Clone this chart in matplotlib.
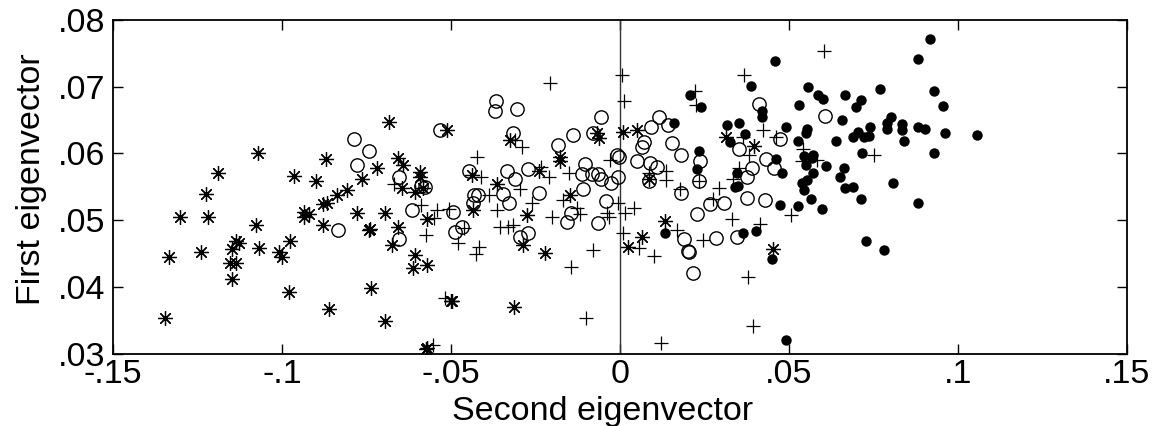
import matplotlib
matplotlib.use('Agg')
import matplotlib.pyplot as plt

plt.rcParams['font.family'] = ['Liberation Sans', 'DejaVu Sans']

star_x = [-.1347,-.1334,-.1301,-.1239,-.1218,-.1224,-.1190,-.1147,-.1154,-.1136,-.1147,-.1136,-.1126,-.1070,-.1077,-.1067,
          -.1009,-.1000,-.0979,-.0976,-.0964,-.0935,-.0935,-.0921,-.0899,-.0880,-.0880,-.0868,-.0871,-.0860,-.0836,-.0807,
          -.0763,-.0779,-.0744,-.0738,-.0683,-.0720,-.0656,-.0643,-.0592,-.0592,-.0646,-.0606,-.0582,-.0694,-.0739,-.0656,
          -.0572,-.0674,-.0606,-.0613,-.0571,-.0696,-.0574,-.0570,-.0511,-.0498,-.0500,-.0439,-.0434,-.0363,-.0325,-.0276,
          -.0286,-.0221,-.0313,-.0240,-.0177,-.0177,-.0148,-.0067,-.0063,.0010,.0023,.0051,.0086,.0134,.0066,.0313,.0397,.0453]
star_y = [.0353,.0445,.0505,.0452,.0505,.0539,.0570,.0412,.0435,.0436,.0457,.0468,.0466,.0600,.0492,.0458,
          .0452,.0445,.0392,.0468,.0566,.0512,.0505,.0509,.0558,.0492,.0524,.0526,.0591,.0367,.0538,.0545,
          .0562,.0510,.0485,.0398,.0647,.0578,.0593,.0583,.0572,.0564,.0548,.0542,.0548,.0510,.0486,.0490,
          .0502,.0463,.0447,.0428,.0433,.0349,.0306,.0308,.0635,.0379,.0378,.0568,.0515,.0554,.0620,.0507,
          .0463,.0450,.0369,.0574,.0595,.0588,.0538,.0631,.0623,.0632,.0459,.0635,.0561,.0498,.0474,.0624,.0611,.0457]

circle_x = [-.0787,-.0742,-.0777,-.0835,-.0654,-.0577,-.0590,-.0616,-.0653,-.0532,-.0494,-.0468,-.0488,-.0447,-.0431,-.0421,
            -.0434,-.0368,-.0370,-.0304,-.0318,-.0333,-.0312,-.0345,-.0329,-.0272,-.0239,-.0271,-.0296,-.0183,-.0140,-.0158,
            -.0144,-.0108,-.0111,-.0103,-.0082,-.0079,-.0064,-.0057,-.0056,-.0027,-.0007,-.0042,-.0064,-.0010,-.0003,.0049,
            .0064,.0072,.0091,.0114,.0141,.0153,.0181,.0089,.0108,.0086,.0237,.0235,.0179,.0227,.0266,.0309,.0188,.0202,
            .0205,.0215,.0284,.0345,.0376,.0428,.0376,.0390,.0352,.0431,.0456,.0410,.0474,.0606]
circle_y = [.0622,.0603,.0582,.0485,.0564,.0549,.0551,.0515,.0472,.0635,.0512,.0489,.0482,.0574,.0538,.0538,
            .0525,.0678,.0664,.0667,.0631,.0573,.0562,.0539,.0525,.0576,.0540,.0480,.0475,.0613,.0627,.0497,
            .0511,.0547,.0569,.0584,.0569,.0631,.0569,.0561,.0654,.0555,.0565,.0529,.0495,.0597,.0595,.0588,
            .0609,.0617,.0639,.0654,.0642,.0615,.0598,.0585,.0579,.0559,.0589,.0558,.0540,.0509,.0524,.0525,.0471,.0454,
            .0452,.0421,.0473,.0475,.0533,.0530,.0564,.0578,.0606,.0591,.0578,.0674,.0621,.0656]

plus_x = [-.0208,.0007,.0012,-.0289,-.0311,-.0424,-.0410,-.0670,-.0589,-.0542,-.0550,-.0505,-.0575,-.0463,-.0480,-.0416,
          -.0427,-.0389,-.0363,-.0355,-.0330,-.0316,-.0296,-.0259,-.0234,-.0210,-.0201,-.0150,-.0168,-.0118,-.0128,-.0079,
          -.0146,-.0102,-.0030,-.0005,-.0039,-.0032,.0015,.0010,-.0518,-.0554,.0041,.0057,.0102,.0121,.0135,.0135,
          .0086,.0177,.0168,.0246,.0235,.0222,.0225,.0293,.0276,.0330,.0335,.0352,.0383,.0368,.0363,.0424,
          .0462,.0413,.0378,.0394,.0505,.0604,.0540,.0538,.0584,.0750]
plus_y = [.0706,.0717,.0678,.0609,.0620,.0594,.0564,.0554,.0522,.0515,.0503,.0516,.0478,.0488,.0465,.0460,
          .0449,.0538,.0515,.0490,.0490,.0493,.0547,.0525,.0580,.0565,.0505,.0570,.0530,.0509,.0518,.0455,
          .0429,.0353,.0590,.0525,.0510,.0504,.0511,.0481,.0383,.0312,.0518,.0458,.0446,.0315,.0574,.0560,
          .0570,.0546,.0485,.0470,.0558,.0694,.0673,.0548,.0532,.0502,.0562,.0578,.0598,.0717,.0625,.0635,
          .0625,.0494,.0414,.0341,.0508,.0753,.0606,.0589,.0590,.0597]

dot_x = [.0458,.0556,.0585,.0600,.0530,.0666,.0712,.0697,.0769,.0929,.0955,.0916,.0881,.0658,.0491,.0552,
         .0549,.0527,.0638,.0801,.0791,.0789,.0835,.0833,.0883,.0903,.0962,.1057,.0740,.0705,.0690,.0722,
         .0738,.0840,.0717,.0929,.0543,.0570,.0568,.0549,.0610,.0663,.0652,.0570,.0554,.0538,.0543,.0666,
         .0689,.0807,.0565,.0713,.0881,.0527,.0598,.0474,.0479,.0462,.0728,.0780,.0449,.0389,.0420,.0420,
         .0318,.0351,.0370,.0325,.0207,.0239,.0159,.0235,.0229,.0346,.0350,.0339,.0365,.0403,.0134,.0492]
dot_y = [.0739,.0700,.0688,.0682,.0672,.0687,.0680,.0669,.0696,.0693,.0671,.0771,.0742,.0650,.0639,.0636,
         .0630,.0618,.0618,.0655,.0645,.0637,.0644,.0635,.0639,.0637,.0630,.0628,.0640,.0632,.0625,.0624,
         .0626,.0618,.0601,.0601,.0596,.0598,.0593,.0582,.0581,.0578,.0564,.0570,.0560,.0556,.0545,.0548,
         .0549,.0556,.0532,.0531,.0526,.0521,.0516,.0522,.0571,.0591,.0468,.0455,.0442,.0701,.0664,.0655,
         .0643,.0645,.0629,.0617,.0688,.0669,.0646,.0604,.0576,.0570,.0551,.0549,.0481,.0483,.0480,.0320]

xticks = [-.15,-.1,-.05,0,.05,.1,.15]
xticklabels = ['-.15','-.1','-.05','0','.05','.1','.15']
yticks = [.03,.04,.05,.06,.07,.08]
yticklabels = ['.03','.04','.05','.06','.07','.08']

fig = plt.figure(figsize=(11.63,4.26),dpi=100)
ax = fig.add_axes([113/1163,1-353.5/426,1014/1163,333.5/426])

ax.axvline(0,color='#333333',lw=1)
ax.plot(star_x,star_y,ls='none',marker=(8,2,0),ms=10.5,mew=.9,mec='black')
ax.plot(plus_x,plus_y,ls='none',marker='+',ms=9.5,mew=.9,mec='black')
ax.plot(circle_x,circle_y,ls='none',marker='o',ms=9.6,mew=1,mec='black',mfc='none')
ax.plot(dot_x,dot_y,ls='none',marker='o',ms=7.5,mew=0,mfc='black')

ax.set_xlim(-.15,.15)
ax.set_ylim(.03,.08)
ax.set_xticks(xticks)
ax.set_xticklabels(xticklabels)
ax.set_yticks(yticks)
ax.set_yticklabels(yticklabels)
ax.tick_params(direction='in',top=True,right=True,length=7.2,width=1,labelsize=24.5)
ax.tick_params(axis='x',pad=4)
ax.tick_params(axis='y',pad=5.5)
for s in ax.spines.values():
    s.set_linewidth(1.3)

ax.set_xlabel('Second eigenvector',fontsize=24.5,labelpad=4,x=.4827)
ax.set_ylabel('First eigenvector',fontsize=24.5,labelpad=8,y=.523)

fig.savefig('out.png',dpi=100)
